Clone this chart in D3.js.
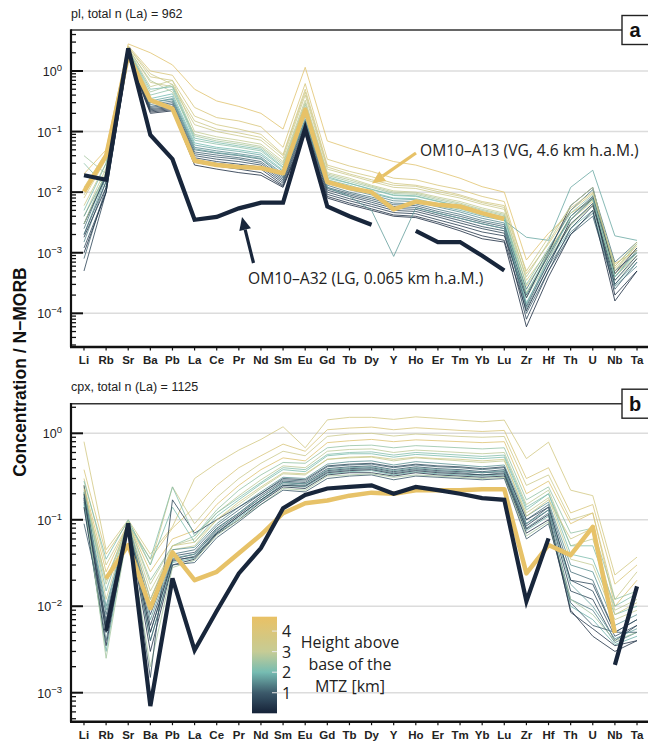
<!DOCTYPE html>
<html>
<head>
<meta charset="utf-8">
<script src="https://cdn.jsdelivr.net/npm/d3@7"></script>
<style>
  html, body { margin: 0; padding: 0; background: #fff; }
  svg { display: block; }
</style>
</head>
<body>
<svg id="chart" width="648" height="742"></svg>
<script>
// Trace elements, N-MORB normalised, in plotting order
const elements = ["Li","Rb","Sr","Ba","Pb","La","Ce","Pr","Nd","Sm","Eu","Gd","Tb","Dy","Y","Ho","Er","Tm","Yb","Lu","Zr","Hf","Th","U","Nb","Ta"];

// ---- Plagioclase (pl) ----
const plHeights = [4.3, 3.9, 3.6, 3.3, 3.0, 2.6, 2.3, 2.0, 1.8, 1.5, 1.3, 1.1, 1.0, 0.8, 0.6, 0.5, 0.3, 0.2, 1.7, 2.8, 3.4, 2.1];
const plSamples = [
  [0.02, 0.05, 2.8, 2.0, 1.26, 0.50, 0.32, 0.26, 0.20, 0.11, 1.15, 0.07, 0.053, 0.041, 0.032, 0.028, 0.022, 0.017, 0.0123, 0.010, 0.00076, 0.0021, 0.0045, 0.0075, 0.00066, 0.0011],
  [0.012, 0.045, 2.6, 1.0, 0.85, 0.25, 0.17, 0.15, 0.12, 0.055, 0.62, 0.035, 0.027, 0.022, 0.017, 0.016, 0.013, 0.011, 0.0085, 0.0070, 0.00045, 0.0014, 0.0050, 0.0095, 0.00055, 0.0013],
  [0.008, 0.035, 2.5, 0.80, 0.70, 0.18, 0.13, 0.11, 0.09, 0.042, 0.50, 0.028, 0.022, 0.018, 0.014, 0.013, 0.011, 0.009, 0.0070, 0.0060, 0.00035, 0.0011, 0.0035, 0.0070, 0.00045, 0.0010],
  [0.006, 0.03, 2.4, 0.65, 0.55, 0.13, 0.10, 0.085, 0.072, 0.036, 0.40, 0.024, 0.019, 0.015, 0.012, 0.0115, 0.0095, 0.0080, 0.0063, 0.0052, 0.00028, 0.0010, 0.0040, 0.0080, 0.00050, 0.0012],
  [0.004, 0.025, 2.3, 0.55, 0.70, 0.10, 0.082, 0.072, 0.062, 0.032, 0.33, 0.021, 0.017, 0.013, 0.0105, 0.0100, 0.0083, 0.0070, 0.0055, 0.0045, 0.00022, 0.0009, 0.0030, 0.0060, 0.00040, 0.0009],
  [0.040, 0.02, 2.2, 0.45, 0.60, 0.085, 0.070, 0.062, 0.054, 0.028, 0.28, 0.019, 0.015, 0.012, 0.0095, 0.0092, 0.0075, 0.0063, 0.0050, 0.0041, 0.00018, 0.0008, 0.0028, 0.0065, 0.00035, 0.0008],
  [0.030, 0.012, 2.2, 0.40, 0.50, 0.072, 0.062, 0.055, 0.048, 0.025, 0.25, 0.017, 0.014, 0.011, 0.0088, 0.0085, 0.0070, 0.0058, 0.0046, 0.0038, 0.00030, 0.0012, 0.0045, 0.0090, 0.00060, 0.0014],
  [0.003, 0.02, 2.1, 0.35, 0.42, 0.065, 0.055, 0.050, 0.044, 0.023, 0.20, 0.016, 0.013, 0.010, 0.0080, 0.0078, 0.0064, 0.0053, 0.0042, 0.0035, 0.00015, 0.0007, 0.0025, 0.0050, 0.00030, 0.0007],
  [0.002, 0.018, 2.0, 0.32, 0.38, 0.060, 0.052, 0.047, 0.041, 0.022, 0.18, 0.015, 0.012, 0.0095, 0.0078, 0.0075, 0.0060, 0.0050, 0.0040, 0.0034, 0.0018, 0.0016, 0.012, 0.023, 0.0019, 0.0016],
  [0.0015, 0.015, 2.1, 0.30, 0.35, 0.055, 0.048, 0.043, 0.038, 0.020, 0.16, 0.014, 0.011, 0.0090, 0.0072, 0.0070, 0.0057, 0.0047, 0.0037, 0.0031, 0.00012, 0.0006, 0.0022, 0.0045, 0.00028, 0.0006],
  [0.0025, 0.02, 2.0, 0.28, 0.32, 0.050, 0.044, 0.040, 0.035, 0.018, 0.15, 0.013, 0.010, 0.0083, 0.0066, 0.0064, 0.0052, 0.0043, 0.0034, 0.0029, 0.00025, 0.0011, 0.0050, 0.0110, 0.00070, 0.0015],
  [0.0008, 0.012, 1.9, 0.26, 0.30, 0.046, 0.041, 0.037, 0.032, 0.017, 0.14, 0.012, 0.0095, 0.0078, 0.0062, 0.0060, 0.0048, 0.0040, 0.0032, 0.0027, 0.00010, 0.0005, 0.0020, 0.0040, 0.00025, 0.0007],
  [0.002, 0.015, 2.0, 0.25, 0.28, 0.043, 0.038, 0.035, 0.030, 0.016, 0.13, 0.0115, 0.0090, 0.0073, 0.0058, 0.0056, 0.0045, 0.0037, 0.0030, 0.0025, 0.00020, 0.0009, 0.0040, 0.0085, 0.00050, 0.0010],
  [0.0012, 0.01, 1.9, 0.24, 0.26, 0.040, 0.035, 0.032, 0.028, 0.015, 0.12, 0.0108, 0.0085, 0.0068, 0.0054, 0.0052, 0.0042, 0.0034, 0.0027, 0.0023, 0.00013, 0.0007, 0.0030, 0.0065, 0.00035, 0.0009],
  [0.0005, 0.01, 1.8, 0.23, 0.25, 0.037, 0.032, 0.029, 0.026, 0.014, 0.11, 0.0100, 0.0078, 0.0063, 0.0050, 0.0048, 0.0039, 0.0031, 0.0025, 0.0021, 0.00008, 0.0005, 0.0025, 0.0060, 0.00030, 0.0008],
  [0.003, 0.018, 1.9, 0.22, 0.24, 0.034, 0.030, 0.027, 0.024, 0.013, 0.10, 0.0092, 0.0072, 0.0058, 0.0046, 0.0044, 0.0035, 0.0028, 0.0022, 0.0019, 0.00018, 0.0010, 0.0060, 0.012, 0.00045, 0.0012],
  [0.0018, 0.012, 1.8, 0.21, 0.23, 0.031, 0.027, 0.024, 0.021, 0.0125, 0.095, 0.0085, 0.0066, 0.0053, 0.0042, 0.0040, 0.0032, 0.0025, 0.0019, 0.0016, 0.00011, 0.0006, 0.0035, 0.0080, 0.00020, 0.0005],
  [0.001, 0.01, 1.7, 0.20, 0.22, 0.028, 0.024, 0.021, 0.019, 0.012, 0.09, 0.0080, 0.0062, 0.0050, 0.0040, 0.0038, 0.0030, 0.0023, 0.0017, 0.0015, 0.00006, 0.0004, 0.0020, 0.0050, 0.00016, 0.0005],
  [0.004, 0.02, 2.0, 0.30, 0.34, 0.052, 0.045, 0.041, 0.036, 0.019, 0.15, 0.012, 0.0085, 0.0050, 0.00087, 0.0055, 0.0045, 0.0037, 0.0030, 0.0025, 0.00014, 0.0008, 0.0040, 0.0080, 0.0004, 0.0011],
  [0.003, 0.022, 2.3, 0.70, 0.45, 0.090, 0.075, 0.066, 0.057, 0.030, 0.30, 0.020, 0.016, 0.0125, 0.0100, 0.0096, 0.0079, 0.0066, 0.0052, 0.0043, 0.00040, 0.0015, 0.0060, 0.0120, 0.00050, 0.0014],
  [0.009, 0.04, 2.5, 0.90, 0.60, 0.15, 0.11, 0.095, 0.080, 0.040, 0.45, 0.026, 0.020, 0.016, 0.013, 0.0125, 0.0102, 0.0086, 0.0067, 0.0056, 0.00050, 0.0018, 0.0055, 0.0100, 0.00060, 0.0015],
  [0.005, 0.03, 2.2, 0.50, 0.55, 0.078, 0.066, 0.058, 0.051, 0.026, 0.22, 0.018, 0.014, 0.0112, 0.0090, 0.0087, 0.0071, 0.0059, 0.0047, 0.0039, 0.00021, 0.0010, 0.0035, 0.0075, 0.00040, 0.0010]
];
const plA13 = [0.0102, 0.040, 1.84, 0.33, 0.24, 0.033, 0.028, 0.026, 0.025, 0.0205, 0.23, 0.0147, 0.0117, 0.010, 0.0052, 0.0070, 0.0062, 0.0058, 0.0045, 0.0036, null, null, null, null, null, null];
const plA32 = [0.019, 0.016, 2.37, 0.088, 0.035, 0.0035, 0.0039, 0.0054, 0.0067, 0.0067, 0.113, 0.0058, 0.0040, 0.0029, null, 0.0023, 0.0015, 0.0015, 0.00089, 0.00051, null, null, null, null, null, null];

// ---- Clinopyroxene (cpx) ----
const cpxHeights = [3.6, 3.9, 3.3, 4.2, 2.4, 2.9, 2.1, 3.0, 1.6, 1.2, 0.9, 0.6, 1.4, 1.9, 0.3, 2.6, 1.0, 0.7, 2.2, 3.4, 1.7, 0.4];
const cpxSamples = [
  [0.8, 0.045, 0.10, 0.04, 0.083, 0.30, 0.45, 0.64, 0.85, 1.19, 0.68, 1.43, 1.53, 1.53, 1.45, 1.55, 1.49, 1.42, 1.36, 1.42, 0.51, 0.79, 0.22, 0.19, 0.023, 0.037],
  [0.38, 0.04, 0.095, 0.035, 0.08, 0.14, 0.25, 0.40, 0.55, 0.75, 0.62, 1.1, 1.15, 1.18, 1.1, 1.16, 1.12, 1.08, 1.05, 1.08, 0.30, 0.40, 0.12, 0.15, 0.018, 0.03],
  [0.3, 0.03, 0.09, 0.03, 0.24, 0.09, 0.18, 0.30, 0.45, 0.62, 0.55, 0.92, 0.98, 1.0, 0.93, 0.98, 0.95, 0.92, 0.90, 0.92, 0.25, 0.33, 0.10, 0.12, 0.012, 0.025],
  [0.25, 0.025, 0.09, 0.025, 0.06, 0.075, 0.15, 0.25, 0.38, 0.52, 0.48, 0.78, 0.82, 0.85, 0.80, 0.84, 0.82, 0.80, 0.78, 0.80, 0.20, 0.28, 0.09, 0.12, 0.010, 0.02],
  [0.22, 0.02, 0.09, 0.02, 0.05, 0.065, 0.13, 0.22, 0.33, 0.46, 0.45, 0.68, 0.72, 0.73, 0.68, 0.72, 0.70, 0.68, 0.66, 0.68, 0.17, 0.24, 0.07, 0.08, 0.012, 0.015],
  [0.20, 0.018, 0.095, 0.018, 0.05, 0.06, 0.12, 0.19, 0.29, 0.42, 0.40, 0.62, 0.65, 0.66, 0.60, 0.64, 0.62, 0.60, 0.58, 0.60, 0.15, 0.22, 0.05, 0.06, 0.009, 0.012],
  [0.28, 0.035, 0.10, 0.03, 0.14, 0.055, 0.11, 0.17, 0.26, 0.38, 0.36, 0.55, 0.58, 0.58, 0.53, 0.57, 0.55, 0.53, 0.51, 0.53, 0.13, 0.20, 0.04, 0.035, 0.008, 0.010],
  [0.24, 0.012, 0.09, 0.015, 0.045, 0.05, 0.10, 0.15, 0.23, 0.34, 0.33, 0.50, 0.52, 0.53, 0.48, 0.52, 0.50, 0.48, 0.46, 0.48, 0.12, 0.18, 0.035, 0.03, 0.007, 0.009],
  [0.21, 0.01, 0.09, 0.012, 0.045, 0.048, 0.09, 0.14, 0.21, 0.31, 0.30, 0.44, 0.47, 0.48, 0.43, 0.47, 0.45, 0.43, 0.41, 0.43, 0.11, 0.16, 0.03, 0.025, 0.006, 0.008],
  [0.18, 0.008, 0.085, 0.01, 0.04, 0.045, 0.085, 0.13, 0.20, 0.29, 0.28, 0.41, 0.43, 0.44, 0.40, 0.43, 0.41, 0.40, 0.38, 0.40, 0.10, 0.15, 0.025, 0.02, 0.005, 0.007],
  [0.25, 0.006, 0.09, 0.008, 0.038, 0.042, 0.08, 0.12, 0.19, 0.28, 0.27, 0.39, 0.41, 0.42, 0.38, 0.41, 0.39, 0.38, 0.36, 0.38, 0.09, 0.14, 0.02, 0.015, 0.0045, 0.006],
  [0.17, 0.005, 0.088, 0.006, 0.035, 0.04, 0.075, 0.115, 0.18, 0.27, 0.26, 0.37, 0.39, 0.40, 0.36, 0.39, 0.37, 0.36, 0.35, 0.36, 0.085, 0.13, 0.015, 0.012, 0.004, 0.006],
  [0.16, 0.004, 0.09, 0.005, 0.033, 0.038, 0.072, 0.11, 0.17, 0.26, 0.25, 0.36, 0.38, 0.39, 0.35, 0.38, 0.36, 0.35, 0.33, 0.35, 0.08, 0.12, 0.012, 0.009, 0.0038, 0.005],
  [0.15, 0.003, 0.085, 0.004, 0.032, 0.036, 0.07, 0.105, 0.165, 0.25, 0.24, 0.34, 0.36, 0.37, 0.33, 0.36, 0.34, 0.33, 0.32, 0.33, 0.075, 0.11, 0.01, 0.007, 0.0036, 0.0045],
  [0.14, 0.0035, 0.09, 0.003, 0.03, 0.035, 0.068, 0.10, 0.16, 0.24, 0.23, 0.33, 0.35, 0.35, 0.32, 0.35, 0.33, 0.32, 0.31, 0.32, 0.07, 0.10, 0.009, 0.0045, 0.003, 0.004],
  [0.20, 0.0025, 0.08, 0.002, 0.028, 0.034, 0.066, 0.10, 0.15, 0.23, 0.22, 0.32, 0.33, 0.34, 0.31, 0.33, 0.32, 0.31, 0.30, 0.31, 0.065, 0.095, 0.012, 0.008, 0.004, 0.005],
  [0.09, 0.007, 0.09, 0.004, 0.03, 0.032, 0.062, 0.095, 0.15, 0.22, 0.21, 0.30, 0.32, 0.33, 0.29, 0.32, 0.31, 0.30, 0.29, 0.30, 0.06, 0.09, 0.011, 0.006, 0.005, 0.005],
  [0.18, 0.006, 0.085, 0.0015, 0.17, 0.07, 0.10, 0.14, 0.20, 0.30, 0.29, 0.42, 0.44, 0.45, 0.41, 0.44, 0.42, 0.41, 0.39, 0.41, 0.10, 0.14, 0.02, 0.018, 0.005, 0.007],
  [0.21, 0.015, 0.09, 0.035, 0.24, 0.065, 0.12, 0.18, 0.27, 0.40, 0.38, 0.57, 0.60, 0.61, 0.56, 0.60, 0.58, 0.56, 0.54, 0.56, 0.14, 0.20, 0.05, 0.05, 0.01, 0.014],
  [0.23, 0.02, 0.08, 0.012, 0.05, 0.055, 0.10, 0.16, 0.24, 0.35, 0.34, 0.50, 0.53, 0.54, 0.50, 0.53, 0.51, 0.50, 0.48, 0.50, 0.11, 0.17, 0.06, 0.08, 0.008, 0.011],
  [0.19, 0.009, 0.09, 0.007, 0.036, 0.04, 0.078, 0.12, 0.18, 0.27, 0.26, 0.38, 0.40, 0.41, 0.37, 0.40, 0.38, 0.37, 0.35, 0.37, 0.09, 0.13, 0.018, 0.01, 0.0042, 0.0055],
  [0.2, 0.005, 0.09, 0.005, 0.034, 0.037, 0.07, 0.11, 0.17, 0.25, 0.245, 0.35, 0.37, 0.38, 0.34, 0.37, 0.35, 0.34, 0.33, 0.34, 0.078, 0.115, 0.0085, 0.0055, 0.0035, 0.004]
];
const cpxA13 = [null, 0.021, 0.051, 0.0095, 0.042, 0.020, 0.025, 0.041, 0.067, 0.119, 0.155, 0.167, 0.19, 0.206, 0.20, 0.22, 0.22, 0.22, 0.226, 0.226, 0.024, 0.051, 0.039, 0.083, 0.0049, null];
const cpxA32 = [null, 0.0052, 0.091, 0.0007, 0.021, 0.0031, 0.0088, 0.024, 0.047, 0.136, 0.194, 0.23, 0.24, 0.25, 0.20, 0.24, 0.22, 0.20, 0.178, 0.17, 0.0114, 0.061, null, null, 0.0021, 0.017];

// Highlighted samples and their heights above the base of the MTZ (km)
const a13Height = 4.6;
const a32Height = 0.065;

// Colour ramp for height above base of the MTZ
const heightStops = [0, 1, 2, 3, 4.7];
const heightColours = ["#152238", "#3c5a6b", "#76bcb2", "#c6cc95", "#e9c165"];
const legendTicks = [1, 2, 3, 4];

const colour = d3.scaleLinear().domain(heightStops).range(heightColours).interpolate(d3.interpolateRgb).clamp(true);

const svg = d3.select("#chart");
const axisFont = "'Liberation Sans', Arial, Helvetica, sans-serif";
const textFont = "'Open Sans', 'Noto Sans', sans-serif";

const left = 71, right = 650;
const x = d3.scalePoint().domain(elements).range([left, right]).padding(0.587);

function panel(opts) {
  const { top, bottom, yDomain, title, letter, samples, heights, a13, a32, majors } = opts;
  const g = svg.append("g");
  const y = d3.scaleLog().domain(yDomain).range([bottom, top]);

  // decade gridlines
  g.append("g").selectAll("line").data(majors).join("line")
    .attr("x1", left).attr("x2", right)
    .attr("y1", d => y(d)).attr("y2", d => y(d))
    .attr("stroke", "#dcdcdc").attr("stroke-width", 1.5);

  // sample lines
  const line = d3.line()
    .defined(d => d != null)
    .x((d, i) => x(elements[i]))
    .y(d => y(d));

  g.append("g").selectAll("path").data(samples).join("path")
    .attr("d", d => line(d))
    .attr("fill", "none")
    .attr("stroke", (d, i) => colour(heights[i]))
    .attr("stroke-width", 0.9)
    .attr("stroke-opacity", 0.9)
    .attr("stroke-linejoin", "round");

  g.append("path").attr("d", line(a13))
    .attr("fill", "none").attr("stroke", colour(a13Height))
    .attr("stroke-width", 4.5).attr("stroke-linejoin", "round");
  g.append("path").attr("d", line(a32))
    .attr("fill", "none").attr("stroke", colour(a32Height))
    .attr("stroke-width", 4.2).attr("stroke-linejoin", "miter");

  // frame: top rule, left and bottom axis lines
  g.append("line").attr("x1", left).attr("x2", 622).attr("y1", top).attr("y2", top)
    .attr("stroke", "#333").attr("stroke-width", 1.6);
  g.append("line").attr("x1", left).attr("x2", left).attr("y1", top - 0.8).attr("y2", bottom)
    .attr("stroke", "#111").attr("stroke-width", 2.2);
  g.append("line").attr("x1", left - 1).attr("x2", right).attr("y1", bottom).attr("y2", bottom)
    .attr("stroke", "#111").attr("stroke-width", 2.6);

  // y ticks (inward), majors long, minors short
  const [lo, hi] = yDomain;
  const minors = [];
  for (let e = Math.floor(Math.log10(lo)); e <= Math.ceil(Math.log10(hi)); e++) {
    for (let m = 2; m <= 9; m++) {
      const v = m * Math.pow(10, e);
      if (v >= lo && v <= hi) minors.push(v);
    }
  }
  g.append("g").selectAll("line").data(minors).join("line")
    .attr("x1", left).attr("x2", left + 5)
    .attr("y1", d => y(d)).attr("y2", d => y(d))
    .attr("stroke", "#111").attr("stroke-width", 1.3);
  g.append("g").selectAll("line").data(majors).join("line")
    .attr("x1", left).attr("x2", left + 12)
    .attr("y1", d => y(d)).attr("y2", d => y(d))
    .attr("stroke", "#111").attr("stroke-width", 2);

  const lab = g.append("g").selectAll("text").data(majors).join("text")
    .attr("x", 62).attr("y", d => y(d) + 5)
    .attr("text-anchor", "end")
    .attr("font-family", axisFont).attr("font-size", 12.5).attr("fill", "#222");
  lab.append("tspan").text("10");
  lab.append("tspan").attr("dy", -5).attr("font-size", 9.5)
    .text(d => { const e = Math.round(Math.log10(d)); return e < 0 ? "\u2212" + (-e) : String(e); });

  // x ticks and labels
  g.append("g").selectAll("line").data(elements).join("line")
    .attr("x1", d => x(d)).attr("x2", d => x(d))
    .attr("y1", bottom).attr("y2", bottom + 3.5)
    .attr("stroke", "#111").attr("stroke-width", 1.2);
  g.append("g").selectAll("text").data(elements).join("text")
    .attr("x", d => x(d)).attr("y", bottom + 17)
    .attr("text-anchor", "middle")
    .attr("font-family", axisFont).attr("font-weight", "bold").attr("font-size", 11.5)
    .attr("fill", "#222")
    .text(d => d);

  // panel title
  g.append("text").attr("x", left).attr("y", top - 12.5)
    .attr("font-family", axisFont).attr("font-size", 12.5).attr("fill", "#222")
    .text(title);

  // panel letter box
  g.append("rect").attr("x", 622).attr("y", top - 14.5).attr("width", 40).attr("height", 29)
    .attr("fill", "#fff").attr("stroke", "#222").attr("stroke-width", 1.4);
  g.append("text").attr("x", 635).attr("y", top + 7)
    .attr("text-anchor", "middle")
    .attr("font-family", axisFont).attr("font-weight", "bold").attr("font-size", 20).attr("fill", "#111")
    .text(letter);

  return { g, y };
}

const pA = panel({
  top: 30, bottom: 347, yDomain: [2.78e-5, 4.75],
  title: "pl, total n (La) = 962", letter: "a",
  samples: plSamples, heights: plHeights, a13: plA13, a32: plA32,
  majors: [1, 0.1, 0.01, 0.001, 0.0001]
});
const pB = panel({
  top: 403.7, bottom: 721.7, yDomain: [4.62e-4, 2.2],
  title: "cpx, total n (La) = 1125", letter: "b",
  samples: cpxSamples, heights: cpxHeights, a13: cpxA13, a32: cpxA32,
  majors: [1, 0.1, 0.01, 0.001]
});

// annotation arrows in panel a
function arrow(g, x1, y1, x2, y2, col, w) {
  const ang = Math.atan2(y2 - y1, x2 - x1);
  const len = 13, half = 6;
  const bx = x2 - len * Math.cos(ang), by = y2 - len * Math.sin(ang);
  g.append("line").attr("x1", x1).attr("y1", y1).attr("x2", bx).attr("y2", by)
    .attr("stroke", col).attr("stroke-width", w);
  const p = [
    [x2, y2],
    [bx + half * Math.sin(ang), by - half * Math.cos(ang)],
    [bx - half * Math.sin(ang), by + half * Math.cos(ang)]
  ];
  g.append("polygon").attr("points", p.map(d => d.join(",")).join(" ")).attr("fill", col);
}
arrow(pA.g, 416, 153, 372, 183.5, colour(a13Height), 3.2);
arrow(pA.g, 253.5, 263, 242, 217, colour(a32Height), 3.2);

pA.g.append("text").attr("x", 420).attr("y", 156)
  .attr("font-family", textFont).attr("font-size", 15.6).attr("fill", "#222")
  .text("OM10\u2013A13 (VG, 4.6 km h.a.M.)");
pA.g.append("text").attr("x", 248).attr("y", 284)
  .attr("font-family", textFont).attr("font-size", 15.6).attr("fill", "#222")
  .text("OM10\u2013A32 (LG, 0.065 km h.a.M.)");

// y-axis title shared by both panels
svg.append("text")
  .attr("transform", "translate(26,372) rotate(-90)")
  .attr("text-anchor", "middle")
  .attr("font-family", axisFont).attr("font-weight", "bold").attr("font-size", 17.5).attr("fill", "#111")
  .text("Concentration / N\u2212MORB");

// colour bar legend in panel b
const lg = svg.append("g");
const barX = 252, barW = 25, barTop = 616.7, barBottom = 713.3;
const ly = d3.scaleLinear().domain([0, 4.7]).range([barBottom, barTop]);
const grad = svg.append("defs").append("linearGradient")
  .attr("id", "heightGrad").attr("x1", 0).attr("y1", 1).attr("x2", 0).attr("y2", 0);
grad.selectAll("stop").data(d3.range(0, 4.71, 0.1)).join("stop")
  .attr("offset", d => d / 4.7)
  .attr("stop-color", d => colour(d));
lg.append("rect").attr("x", barX).attr("y", barTop).attr("width", barW).attr("height", barBottom - barTop)
  .attr("fill", "url(#heightGrad)");
lg.selectAll("line.tk").data(legendTicks).join("line")
  .attr("x1", barX + barW - 5).attr("x2", barX + barW)
  .attr("y1", d => ly(d)).attr("y2", d => ly(d))
  .attr("stroke", "#e8e8e8").attr("stroke-width", 1);
lg.selectAll("text.tk").data(legendTicks).join("text")
  .attr("x", barX + barW + 5).attr("y", d => ly(d) + 6)
  .attr("font-family", textFont).attr("font-size", 16).attr("fill", "#222")
  .text(d => d);
const legendTitle = ["Height above", "base of the", "MTZ [km]"];
lg.selectAll("text.tt").data(legendTitle).join("text")
  .attr("x", 350).attr("y", (d, i) => 648 + i * 22)
  .attr("text-anchor", "middle")
  .attr("font-family", textFont).attr("font-size", 16).attr("fill", "#222")
  .text(d => d);
</script>
</body>
</html>
